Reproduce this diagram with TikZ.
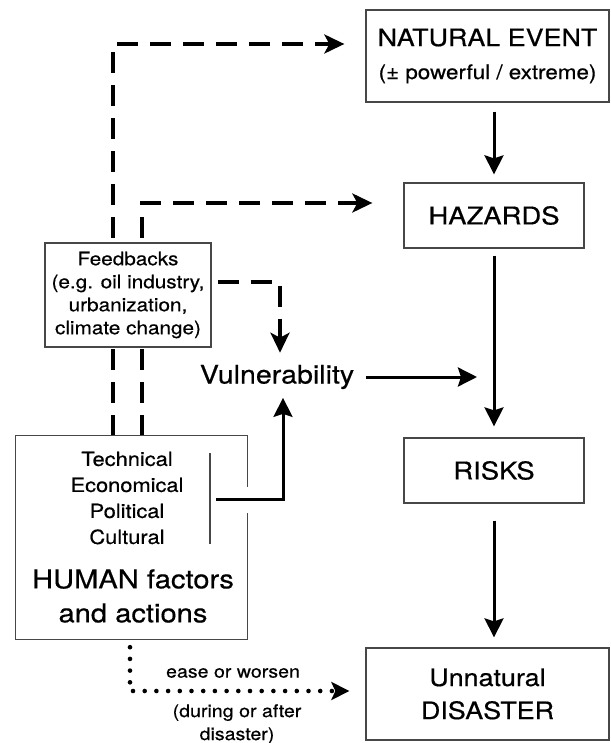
\documentclass[tikz,border=0pt]{standalone}
\usepackage{fontspec}
\setmainfont{TeX Gyre Heros}[FakeStretch=1.12, FakeBold=0.5]
\usetikzlibrary{arrows.meta,backgrounds}
\begin{document}
\begin{tikzpicture}[x=1pt,y=-1pt,
  boxline/.style={draw=black!72, line width=1.3pt},
  box/.style={boxline, fill=white, align=center, inner sep=0pt},
  arr/.style={line width=3pt, -{Stealth[length=19pt,width=19pt,inset=3pt]}},
  dasharr/.style={line width=3.5pt, dash pattern=on 21pt off 12pt, -{Stealth[length=20pt,width=19pt,inset=5pt]}},
  dotarr/.style={line width=4.6pt, line cap=round, dash pattern=on 0pt off 11.7pt, -{Stealth[length=18pt,width=18pt,inset=4pt]}},
  txt/.style={align=center, inner sep=0pt}
]
\useasboundingbox (0,0) rectangle (610,743);

% boxes
\node[box, minimum width=243pt, minimum height=92pt, font=\fontsize{24}{33}\selectfont] (natural) at (487.5,56)
  {NATURAL EVENT\\{\fontsize{20}{33}\selectfont (± powerful / extreme)}};
\node[box, minimum width=180pt, minimum height=65pt, font=\fontsize{24.5}{30}\selectfont] (hazards) at (494,215.5) {HAZARDS};
\node[box, minimum width=180pt, minimum height=65pt, font=\fontsize{24.5}{30}\selectfont] (risks) at (494,470.5) {RISKS};
\node[box, minimum width=243pt, minimum height=92pt, font=\fontsize{24}{33}\selectfont] (disaster) at (487.5,694) {Unnatural\\DISASTER};
\node[box, minimum width=166pt, minimum height=104pt, font=\fontsize{18.5}{23}\selectfont] (fb) at (128,295)
  {Feedbacks\\(e.g. oil industry,\\urbanization,\\climate change)};
\node[minimum width=231pt, minimum height=203pt, inner sep=0pt] (human) at (131.5,537.5) {};
\node[txt, font=\fontsize{19.5}{26}\selectfont] (humlist) at (127,498) {Technical\\Economical\\Political\\Cultural};
\node[txt, font=\fontsize{26}{34}\selectfont] (humlabel) at (133,596) {HUMAN factors\\and actions};
\node[txt, font=\fontsize{25.5}{30}\selectfont] (vuln) at (277,377) {Vulnerability};
\node[txt, font=\fontsize{17.5}{23}\selectfont] (ease) at (233,673) {ease or worsen};
\node[txt, font=\fontsize{17.5}{23}\selectfont] (during) at (237,724) {(during or after\\disaster)};

% human box border with gap on the right
\draw[boxline] ([yshift=-51pt]human.north east) -- (human.north east) -- (human.north west)
  -- (human.south west) -- (human.south east) -- ([yshift=126pt]human.south east);
\draw[boxline] (210,453) -- (210,544);

\coordinate (hout) at (216,499);
\coordinate (vend) at (hazards.south |- vuln.east);

% solid arrows
\draw[arr, shorten <=9pt, shorten >=8pt] (natural.south -| hazards.north) -- (hazards.north);
\draw[arr, shorten <=7pt, shorten >=11pt] (hazards.south) -- (risks.north);
\draw[arr, shorten <=17pt, shorten >=10pt] (risks.south) -- (risks.south |- disaster.north);
\draw[arr, shorten <=12pt, shorten >=17pt] (vuln.east) -- (vend);
\draw[arr, shorten >=8.6pt] (hout) -| ([xshift=6pt]vuln.south);

% dashed feedback arrows
\begin{scope}[on background layer]
\draw[dasharr, shorten >=21pt] ([xshift=-18.5pt]human.north) |- ([yshift=12pt]natural.west);
\draw[dasharr, shorten >=31pt] ([xshift=10.5pt]human.north) |- ([yshift=12.5pt]hazards.west);
\end{scope}
\draw[dasharr, shorten <=6pt, shorten >=12pt] ([yshift=13pt]fb.east) -| ([xshift=3pt]vuln.north);

% dotted arrow
\draw[dotarr, shorten <=8pt, shorten >=16pt] ([xshift=-1.5pt]human.south) |- ([yshift=3pt]disaster.west);
\end{tikzpicture}
\end{document}
